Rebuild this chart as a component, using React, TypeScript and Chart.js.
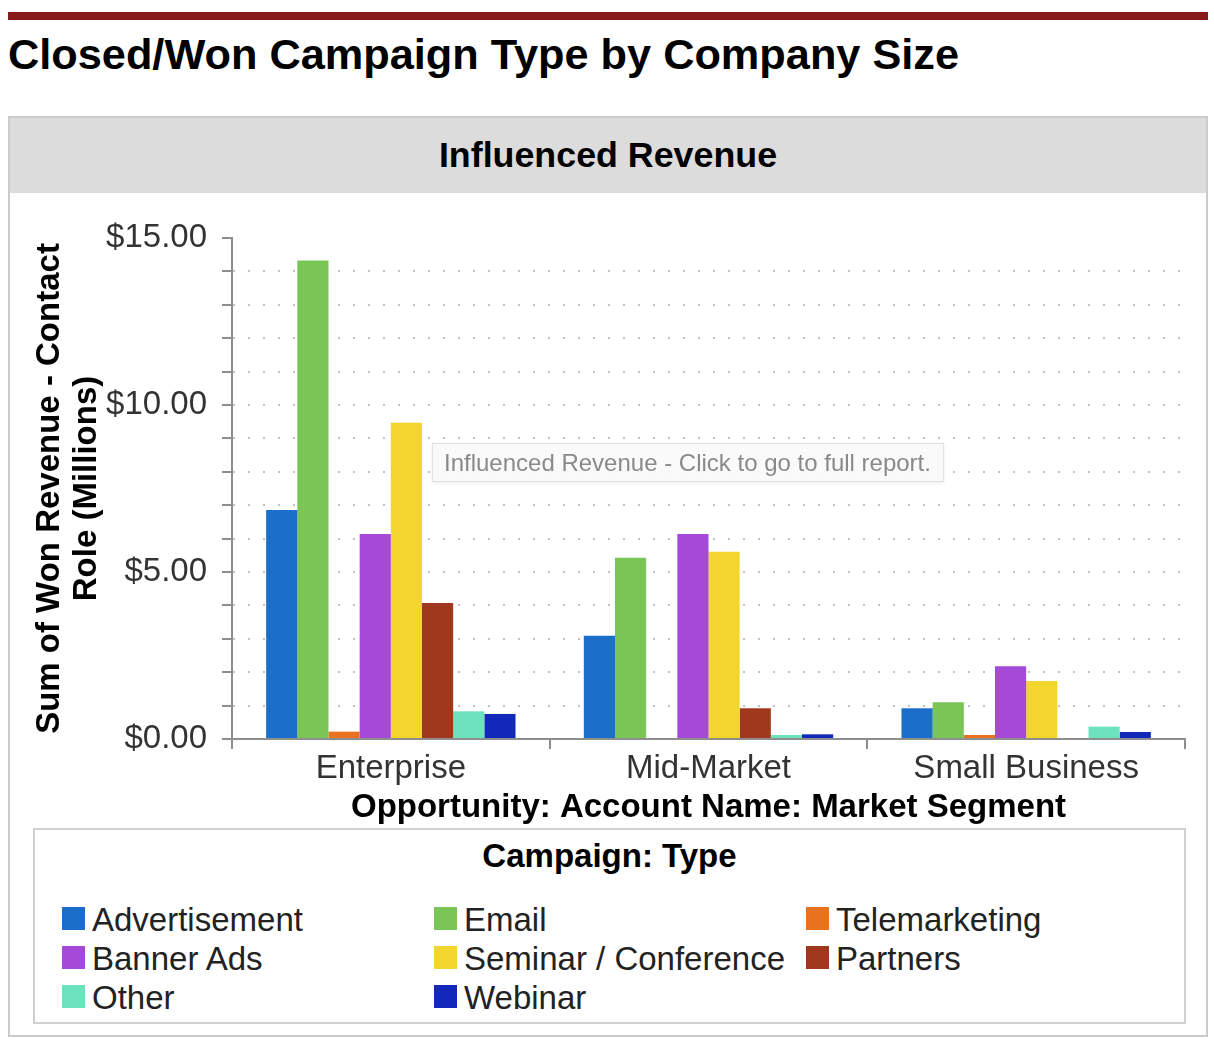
import React, { useEffect, useRef } from 'react';
import { Chart, registerables } from 'chart.js';

Chart.register(...registerables);

const pageTitle = 'Closed/Won Campaign Type by Company Size';
const panelTitle = 'Influenced Revenue';
const hoverNote = 'Influenced Revenue - Click to go to full report.';
const xAxisTitle = 'Opportunity: Account Name: Market Segment';
const yAxisTitle = ['Sum of Won Revenue - Contact', 'Role (Millions)'];
const legendTitle = 'Campaign: Type';

const categories = ['Enterprise', 'Mid-Market', 'Small Business'];
const seriesNames = [
  'Advertisement',
  'Email',
  'Telemarketing',
  'Banner Ads',
  'Seminar / Conference',
  'Partners',
  'Other',
  'Webinar',
];
const seriesColors = ['#1b6fcb', '#79c555', '#e8721f', '#a54ad8', '#f3d62d', '#a0381c', '#6ce3bd', '#1128b9'];

// values in $ millions
const advertisement = [6.86, 3.09, 0.92];
const email = [14.33, 5.43, 1.1];
const telemarketing = [0.22, null, 0.12];
const bannerAds = [6.14, 6.14, 2.18];
const seminar = [9.47, 5.61, 1.74];
const partners = [4.07, 0.92, null];
const other = [0.83, 0.12, 0.37];
const webinar = [0.75, 0.14, 0.21];
const seriesData = [advertisement, email, telemarketing, bannerAds, seminar, partners, other, webinar];

const yMin = 0;
const yMax = 15;
const yStep = 1;
const yLabelledTicks = [0, 5, 10, 15];

const FONT = '"Liberation Sans", Arial, Helvetica, sans-serif';
const AXIS = '#8e8e8e';
const FS = 33;

function BarChart() {
  const ref = useRef<HTMLCanvasElement | null>(null);
  useEffect(() => {
    if (!ref.current) return;
    const chart = new Chart(ref.current, {
      type: 'bar',
      data: {
        labels: categories,
        datasets: seriesNames.map((name, i) => ({
          label: name,
          data: seriesData[i],
          backgroundColor: seriesColors[i],
          borderWidth: 0,
          categoryPercentage: 0.785,
          barPercentage: 1,
        })),
      },
      options: {
        responsive: false,
        animation: false,
        devicePixelRatio: 1,
        events: [],
        layout: { padding: { top: 43, right: 21, bottom: 0, left: 0 } },
        plugins: {
          legend: { display: false },
          tooltip: { enabled: false },
          title: { display: false },
        },
        scales: {
          x: {
            afterFit: (s: any) => {
              s.height = 87;
            },
            grid: {
              display: true,
              drawOnChartArea: false,
              drawTicks: true,
              tickLength: 10,
              offset: true,
              color: AXIS,
              lineWidth: 2,
              tickWidth: 2,
            },
            border: { display: true, color: AXIS, width: 2 },
            ticks: {
              autoSkip: false,
              maxRotation: 0,
              padding: 0,
              color: '#333',
              font: { family: FONT, size: FS },
            },
            title: {
              display: true,
              text: xAxisTitle,
              color: '#000',
              font: { family: FONT, size: FS, weight: 'bold', lineHeight: 1 },
              padding: { top: 0, bottom: 2 },
            },
          },
          y: {
            min: yMin,
            max: yMax,
            afterFit: (s: any) => {
              s.width = 222;
            },
            grid: {
              color: (ctx: any) =>
                ctx.tick && (ctx.tick.value === yMin || ctx.tick.value === yMax) ? 'rgba(0,0,0,0)' : '#c2c2c2',
              lineWidth: 2,
              drawTicks: true,
              tickLength: 10,
              tickColor: AXIS,
              tickWidth: 2,
              tickBorderDash: [],
            },
            border: { display: true, color: AXIS, width: 2, dash: [2, 13], dashOffset: 0 },
            ticks: {
              stepSize: yStep,
              autoSkip: false,
              padding: 15,
              color: '#333',
              font: { family: FONT, size: FS },
              callback: (v: any) => (yLabelledTicks.includes(Number(v)) ? '$' + Number(v).toFixed(2) : ''),
            },
            title: {
              display: true,
              text: yAxisTitle,
              color: '#000',
              font: { family: FONT, size: FS, weight: 'bold', lineHeight: 1.1 },
              padding: { top: 22, bottom: 0 },
            },
          },
        },
      },
    } as any);
    return () => chart.destroy();
  }, []);
  return (
    <canvas
      ref={ref}
      width={1196}
      height={631}
      style={{ position: 'absolute', left: 10, top: 195, width: 1196, height: 631 }}
    />
  );
}

export default function App() {
  return (
    <div style={{ position: 'absolute', left: 0, top: 0, width: 1214, height: 1046, fontFamily: FONT, background: '#fff' }}>
      <div style={{ position: 'absolute', left: 8, top: 12, width: 1200, height: 8, background: '#861b1d' }} />
      <div
        style={{
          position: 'absolute',
          left: 8,
          top: 30,
          height: 48,
          lineHeight: '48px',
          fontSize: 43.3,
          fontWeight: 'bold',
          color: '#000',
          whiteSpace: 'nowrap',
        }}
      >
        {pageTitle}
      </div>
      <div
        style={{
          position: 'absolute',
          left: 8,
          top: 116,
          width: 1200,
          height: 921,
          border: '2px solid #cbcbcb',
          boxSizing: 'border-box',
        }}
      />
      <div
        style={{
          position: 'absolute',
          left: 10,
          top: 118,
          width: 1196,
          height: 75,
          background: '#dcdcdc',
          textAlign: 'center',
          lineHeight: '75px',
          fontSize: 35.8,
          fontWeight: 'bold',
          color: '#000',
        }}
      >
        {panelTitle}
      </div>
      <BarChart />
      <div
        style={{
          position: 'absolute',
          left: 432,
          top: 443,
          width: 512,
          height: 39,
          boxSizing: 'border-box',
          background: 'rgba(249,249,249,0.88)',
          border: '1px solid #e2e2e2',
          boxShadow: '0 1px 3px rgba(0,0,0,0.08)',
          color: '#8a8a8a',
          fontSize: 24,
          lineHeight: '37px',
          paddingLeft: 11,
          whiteSpace: 'nowrap',
        }}
      >
        {hoverNote}
      </div>
      <div
        style={{
          position: 'absolute',
          left: 33,
          top: 828,
          width: 1153,
          height: 196,
          border: '2px solid #d0d0d0',
          boxSizing: 'border-box',
        }}
      />
      <div
        style={{
          position: 'absolute',
          left: 33,
          top: 836,
          width: 1153,
          height: 40,
          lineHeight: '40px',
          textAlign: 'center',
          fontSize: 33,
          fontWeight: 'bold',
          color: '#000',
        }}
      >
        {legendTitle}
      </div>
      {seriesNames.map((name, i) => {
        const col = i % 3;
        const row = Math.floor(i / 3);
        return (
          <div
            key={name}
            style={{
              position: 'absolute',
              left: 62 + col * 372,
              top: 900 + row * 39,
              height: 39,
              lineHeight: '39px',
              fontSize: 33,
              color: '#222',
              whiteSpace: 'nowrap',
            }}
          >
            <span
              style={{
                position: 'absolute',
                left: 0,
                top: 7,
                width: 23,
                height: 23,
                background: seriesColors[i],
              }}
            />
            <span style={{ marginLeft: 30 }}>{name}</span>
          </div>
        );
      })}
    </div>
  );
}
